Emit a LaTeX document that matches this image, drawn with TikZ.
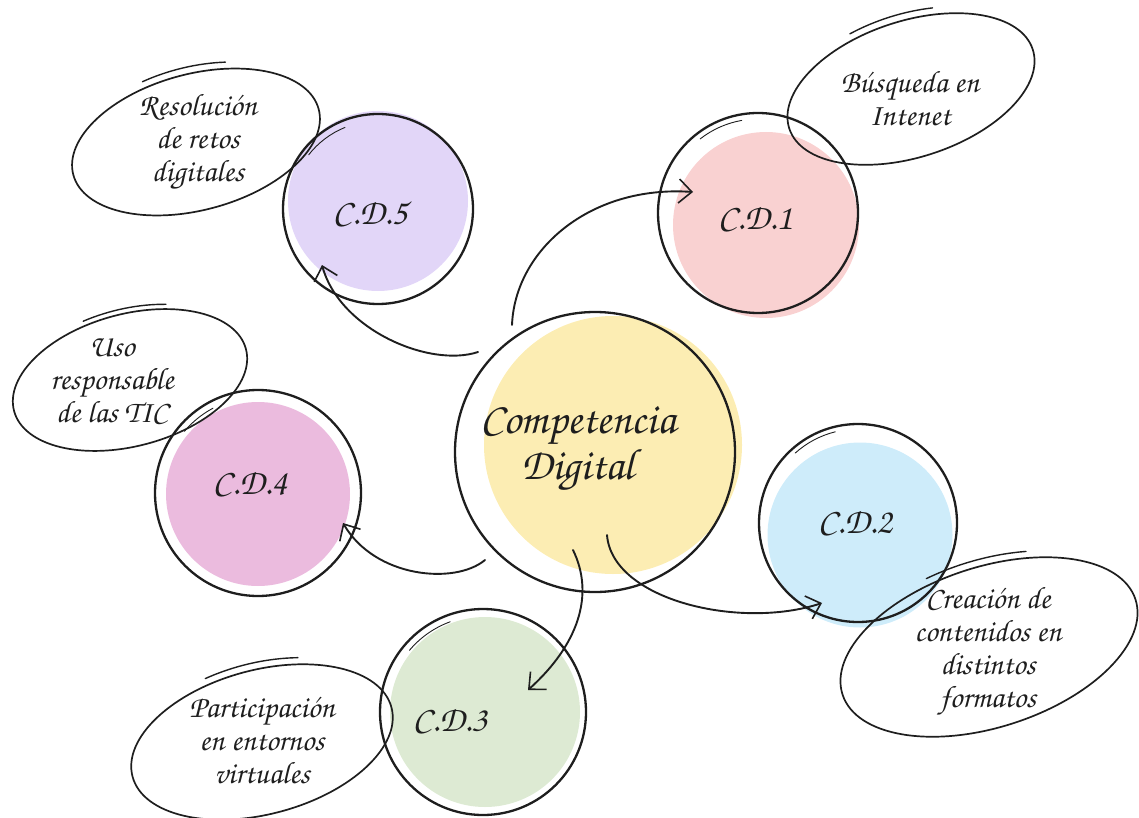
\documentclass[tikz,border=0pt]{standalone}
\usepackage[T1]{fontenc}
\usetikzlibrary{shapes.geometric,arrows.meta}
\IfFileExists{t1qzc.fd}{%
  \newcommand{\handfont}{\fontencoding{T1}\fontfamily{qzc}\fontseries{m}\fontshape{it}\selectfont}}{%
  \IfFileExists{t1pzc.fd}{%
    \newcommand{\handfont}{\fontencoding{T1}\fontfamily{pzc}\fontseries{mb}\fontshape{it}\selectfont}}{%
    \newcommand{\handfont}{\itshape}}}
\definecolor{yel}{HTML}{FCEDB3}
\definecolor{pk}{HTML}{F9D1D1}
\definecolor{pu}{HTML}{E2D6F8}
\definecolor{mg}{HTML}{EBBBDE}
\definecolor{bl}{HTML}{CEECFA}
\definecolor{gr}{HTML}{DDEAD3}
\definecolor{ink}{HTML}{1E1E1E}
\begin{document}
\begin{tikzpicture}[x=1pt,y=-1pt,
  blob/.style={circle, inner sep=0pt, draw=none},
  outl/.style={circle, draw=ink, line width=2.3pt, inner sep=0pt},
  bubble/.style={ellipse, draw=ink, line width=1.7pt, inner sep=0pt},
  tail/.style={draw=ink, line width=0.9pt, line cap=round},
  lbl/.style={align=center, text=ink, font=\handfont\fontsize{31}{33}\selectfont},
  cdl/.style={text=ink, font=\handfont\fontsize{36}{38}\selectfont},
  biglbl/.style={align=center, text=ink, font=\handfont\fontsize{44}{44}\selectfont},
  conn/.style={line width=1.9pt, draw=ink, line cap=round, -{Straight Barb[length=13pt,width=24pt,line width=1.6pt]}}]
\useasboundingbox (0,0) rectangle (1139,818);
% colour blobs
\node[blob, fill=yel, minimum size=258pt] (cenfill) at (613,445) {};
\node[blob, fill=pk, minimum size=186pt] (cdafill) at (766,225) {};
\node[blob, fill=pu, minimum size=180pt] (cdefill) at (378,201) {};
\node[blob, fill=mg, minimum size=184pt] (cddfill) at (258,494) {};
\node[blob, fill=bl, minimum size=185pt] (cdbfill) at (860,535) {};
\node[blob, fill=gr, minimum size=190pt] (cdcfill) at (485,712) {};
% outlines
\node[outl, minimum size=280pt] (cen) at (595,452) {};
\node[outl, minimum size=200pt] (cda) at (758,213) {};
\node[outl, minimum size=190pt] (cde) at (378,209) {};
\node[outl, minimum size=206pt] (cdd) at (258,493) {};
\node[outl, minimum size=198pt] (cdb) at (858,523) {};
\node[outl, minimum size=206pt] (cdc) at (483,712) {};
% sketchy overshoot strokes of the circles
\draw[tail] (cda.center) ++(-128:94) arc[start angle=-128, end angle=-100, radius=94];
\draw[tail] (cde.center) ++(-142:88) arc[start angle=-142, end angle=-112, radius=88];
\draw[tail] (cdd.center) ++(-140:96) arc[start angle=-140, end angle=-118, radius=96];
\draw[tail] (cdc.center) ++(-140:96) arc[start angle=-140, end angle=-110, radius=96];
\draw[tail] (cdb.center) ++(-132:94) arc[start angle=-132, end angle=-104, radius=94];
% bubbles
\node[bubble, minimum width=256pt, minimum height=136pt, rotate=18] (ea) at (911,89) {};
\node[bubble, minimum width=254pt, minimum height=136pt, rotate=15] (ee) at (196,142) {};
\node[bubble, minimum width=240pt, minimum height=132pt, rotate=15] (ed) at (130,380) {};
\node[bubble, minimum width=308pt, minimum height=160pt, rotate=18] (eb) at (989,647) {};
\node[bubble, minimum width=268pt, minimum height=144pt, rotate=15] (ec) at (262,742) {};
% sketchy overshoot strokes of the bubbles
\draw[tail, line width=1.4pt, rotate around={18:(ea.center)}] (ea.center) ++(-70:133 and 75) arc[start angle=-70, end angle=-108, x radius=133, y radius=75];
\draw[tail, line width=1.4pt, rotate around={15:(ee.center)}] (ee.center) ++(-68:131 and 75) arc[start angle=-68, end angle=-106, x radius=131, y radius=75];
\draw[tail, line width=1.4pt, rotate around={15:(ed.center)}] (ed.center) ++(-64:124 and 71) arc[start angle=-64, end angle=-104, x radius=124, y radius=71];
\draw[tail, line width=1.4pt, rotate around={18:(eb.center)}] (eb.center) ++(-66:159 and 87) arc[start angle=-66, end angle=-104, x radius=159, y radius=87];
\draw[tail, line width=1.4pt, rotate around={15:(ec.center)}] (ec.center) ++(-66:139 and 79) arc[start angle=-66, end angle=-106, x radius=139, y radius=79];
% texts
\node[biglbl] (tcen) at (578,450) {Competencia\\Digital};
\node[cdl] (tcda) at (755,218) {C.D.1};
\node[cdl] (tcdb) at (855,522) {C.D.2};
\node[cdl] (tcdc) at (450,720) {C.D.3};
\node[cdl] (tcdd) at (250,483) {C.D.4};
\node[cdl] (tcde) at (370,213) {C.D.5};
\node[lbl] (tea) at (910,98) {B\'usqueda en\\Intenet};
\node[lbl] (tee) at (198,142) {Resoluci\'on\\de retos\\digitales};
\node[lbl] (ted) at (112,380) {Uso\\responsable\\de las TIC};
\node[lbl] (teb) at (988,652) {Creaci\'on de\\contenidos en\\distintos\\formatos};
\node[lbl] (tec) at (262,740) {Participaci\'on\\en entornos\\virtuales};
% connector ends
\coordinate (sa) at ([shift={(-83,-127)}]cen.center);
\coordinate (ta) at ([shift={(-65,-21)}]cda.center);
\coordinate (se) at ([shift={(-117,-100)}]cen.center);
\coordinate (te) at ([shift={(-56,56)}]cde.center);
\coordinate (sd) at ([shift={(-110,108)}]cen.center);
\coordinate (td) at ([shift={(85,30)}]cdd.center);
\coordinate (sc) at ([shift={(-22,98)}]cen.center);
\coordinate (tc) at ([shift={(45,-22)}]cdc.center);
\coordinate (sb) at ([shift={(12,83)}]cen.center);
\coordinate (tb) at ([shift={(-36,80)}]cdb.center);
% connectors
\draw[conn] (sa) .. controls (515,250) and (590,185) .. (ta);
\draw[conn] (se) .. controls (430,368) and (340,330) .. (te);
\draw[conn] (sd) .. controls (455,585) and (375,578) .. (td);
\draw[conn] (sc) .. controls (595,595) and (578,645) .. (tc);
\draw[conn] (sb) .. controls (612,600) and (740,630) .. (tb);
\end{tikzpicture}
\end{document}
